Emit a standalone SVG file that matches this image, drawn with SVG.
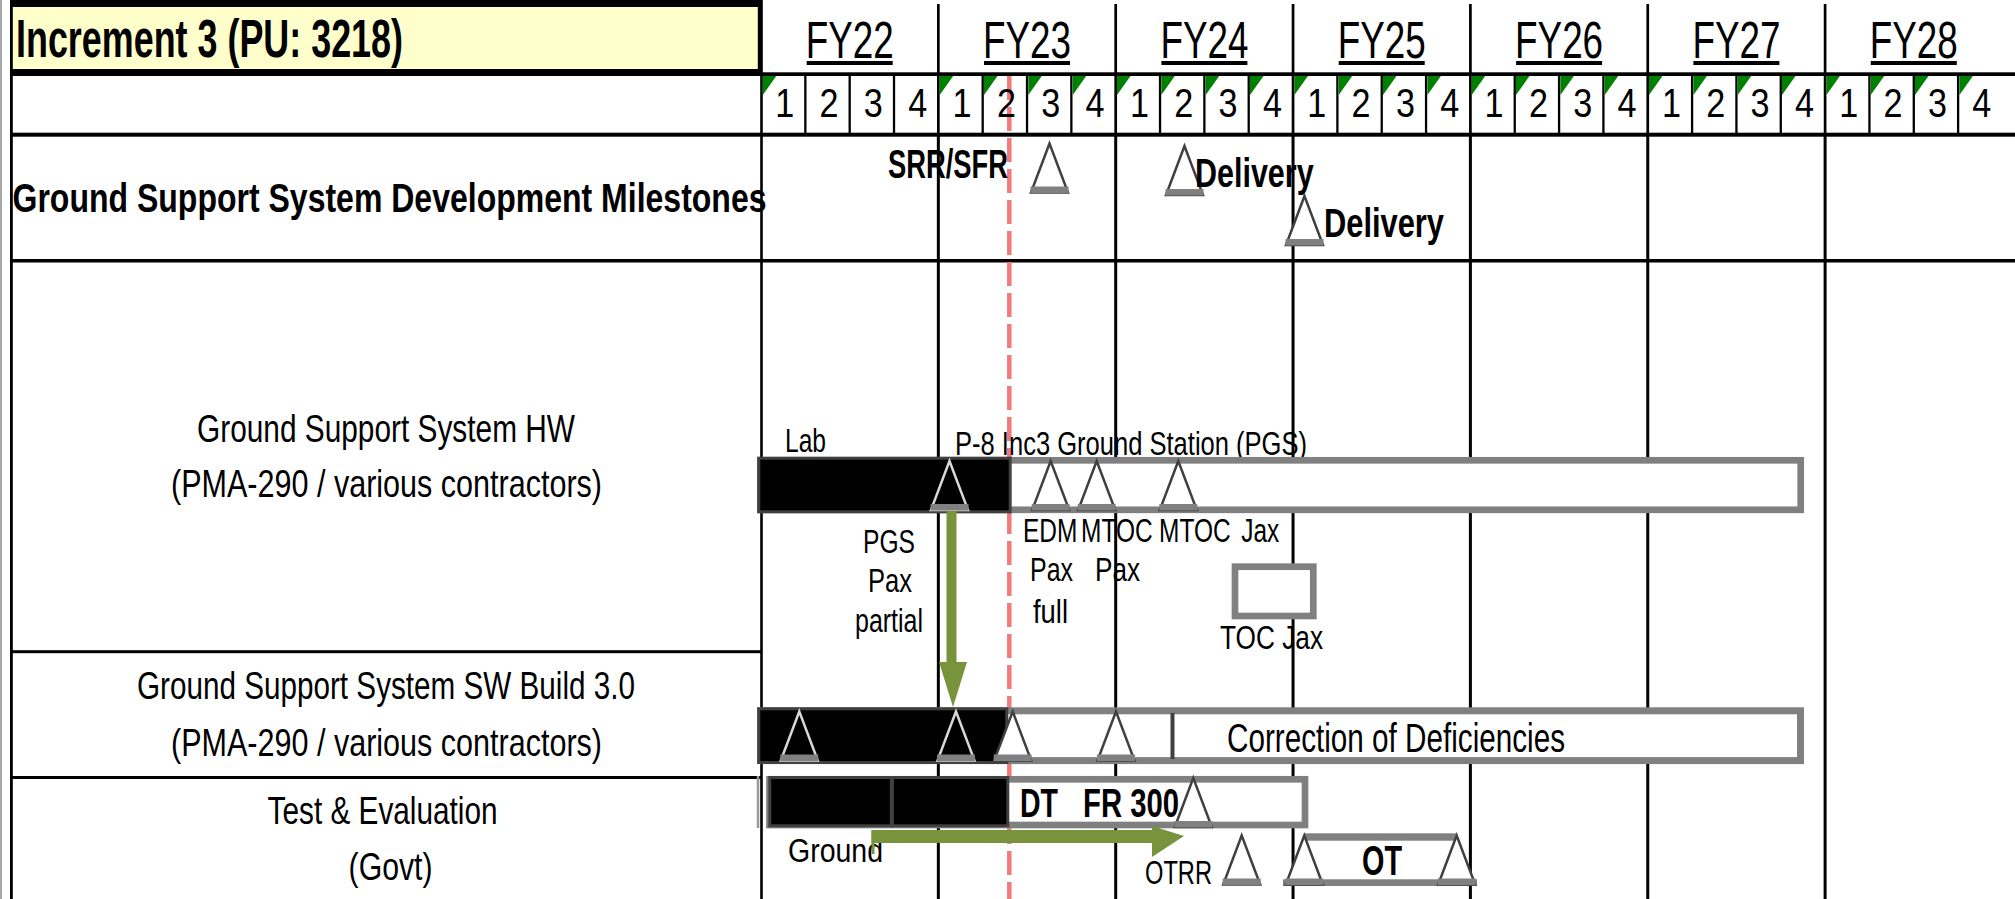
<svg xmlns="http://www.w3.org/2000/svg" xmlns:xlink="http://www.w3.org/1999/xlink" width="2015" height="899" viewBox="0 0 2015 899">
<defs>
<style>
text{font-family:"Liberation Sans",Arial,sans-serif;fill:#000}
.b{font-weight:bold}
.fy{font-size:52px;text-anchor:middle}
.q{font-size:41px;text-anchor:middle}
.lab{font-size:39px;text-anchor:middle}
.sm{font-size:34px}
.md{font-size:40px}
.yl{stroke:#000;stroke-width:3}
.yh{stroke:#000;stroke-width:2.7}
.ql{stroke:#000;stroke-width:2.3}
.gbar{fill:#fff;stroke:#808080}
.kbar{fill:#000;stroke:#404040;stroke-width:3}
.arrow{fill:#77933C}
</style>
<polygon id="gt" points="0,0 13.5,0 0,19" fill="#008000"/>
<g id="triW"><polygon points="0,0 -18.5,49 18.5,49" fill="#fff" stroke="#404040" stroke-width="2.5"/><rect x="-19" y="43" width="38" height="6.5" fill="#808080"/></g>
<g id="triK"><polygon points="0,0 -18.5,49 18.5,49" fill="none" stroke="#d8d8d8" stroke-width="2.5"/><rect x="-19" y="43" width="38" height="6.5" fill="#808080"/></g>
</defs>
<rect width="2015" height="899" fill="#fff"/>

<g id="grid">
<line x1="1" y1="0" x2="1" y2="899" stroke="#8a8a8a" stroke-width="1.5"/>
<rect x="10" y="0" width="2.8" height="899" fill="#000"/>
<rect x="760.2" y="0" width="2.6" height="899" fill="#000"/>
<rect x="10" y="72.3" width="2005" height="3.7" fill="#000"/>
<rect x="10" y="132.7" width="2005" height="4" fill="#000"/>
<rect x="10" y="259" width="2005" height="3.5" fill="#000"/>
<rect x="10" y="650.2" width="751" height="3" fill="#000"/>
<rect x="10" y="776" width="751" height="3" fill="#000"/>
<g class="yh">
<line x1="938.35" y1="4" x2="938.35" y2="136"/><line x1="1115.7" y1="4" x2="1115.7" y2="136"/><line x1="1293.05" y1="4" x2="1293.05" y2="136"/><line x1="1470.4" y1="4" x2="1470.4" y2="136"/><line x1="1647.75" y1="4" x2="1647.75" y2="136"/><line x1="1825.1" y1="4" x2="1825.1" y2="136"/>
</g>
<g class="ql">
<line x1="805.34" y1="76" x2="805.34" y2="133"/><line x1="849.68" y1="76" x2="849.68" y2="133"/><line x1="894.01" y1="76" x2="894.01" y2="133"/>
<line x1="982.69" y1="76" x2="982.69" y2="133"/><line x1="1027.03" y1="76" x2="1027.03" y2="133"/><line x1="1071.36" y1="76" x2="1071.36" y2="133"/>
<line x1="1160.04" y1="76" x2="1160.04" y2="133"/><line x1="1204.38" y1="76" x2="1204.38" y2="133"/><line x1="1248.71" y1="76" x2="1248.71" y2="133"/>
<line x1="1337.39" y1="76" x2="1337.39" y2="133"/><line x1="1381.73" y1="76" x2="1381.73" y2="133"/><line x1="1426.06" y1="76" x2="1426.06" y2="133"/>
<line x1="1514.74" y1="76" x2="1514.74" y2="133"/><line x1="1559.08" y1="76" x2="1559.08" y2="133"/><line x1="1603.41" y1="76" x2="1603.41" y2="133"/>
<line x1="1692.09" y1="76" x2="1692.09" y2="133"/><line x1="1736.43" y1="76" x2="1736.43" y2="133"/><line x1="1780.76" y1="76" x2="1780.76" y2="133"/>
<line x1="1869.44" y1="76" x2="1869.44" y2="133"/><line x1="1913.78" y1="76" x2="1913.78" y2="133"/><line x1="1958.11" y1="76" x2="1958.11" y2="133"/>
</g>
<g class="yl">
<line x1="938.35" y1="136" x2="938.35" y2="899"/><line x1="1115.7" y1="136" x2="1115.7" y2="899"/><line x1="1293.05" y1="136" x2="1293.05" y2="899"/><line x1="1470.4" y1="136" x2="1470.4" y2="899"/><line x1="1647.75" y1="136" x2="1647.75" y2="899"/><line x1="1825.1" y1="136" x2="1825.1" y2="899"/>
</g>
<g>
<use xlink:href="#gt" x="762.8" y="76"/>
<use xlink:href="#gt" x="939.7" y="76"/><use xlink:href="#gt" x="984" y="76"/><use xlink:href="#gt" x="1028.3" y="76"/><use xlink:href="#gt" x="1072.7" y="76"/>
<use xlink:href="#gt" x="1117" y="76"/><use xlink:href="#gt" x="1161.3" y="76"/><use xlink:href="#gt" x="1205.7" y="76"/><use xlink:href="#gt" x="1250" y="76"/>
<use xlink:href="#gt" x="1294.4" y="76"/><use xlink:href="#gt" x="1338.7" y="76"/><use xlink:href="#gt" x="1383" y="76"/><use xlink:href="#gt" x="1427.4" y="76"/>
<use xlink:href="#gt" x="1471.7" y="76"/><use xlink:href="#gt" x="1516" y="76"/><use xlink:href="#gt" x="1560.4" y="76"/><use xlink:href="#gt" x="1604.7" y="76"/>
<use xlink:href="#gt" x="1649" y="76"/><use xlink:href="#gt" x="1693.4" y="76"/><use xlink:href="#gt" x="1737.7" y="76"/><use xlink:href="#gt" x="1782" y="76"/>
<use xlink:href="#gt" x="1826.4" y="76"/><use xlink:href="#gt" x="1870.7" y="76"/><use xlink:href="#gt" x="1915" y="76"/><use xlink:href="#gt" x="1959.4" y="76"/>
</g>
<line id="today" x1="1009.3" y1="76" x2="1009.3" y2="899" stroke="#F37A7A" stroke-width="4.5" stroke-dasharray="24 7"/>
</g>

<g id="title">
<rect x="10" y="0" width="752" height="76" fill="#000"/>
<rect x="12.8" y="7" width="745" height="62" fill="#FFFFCC"/>
<text class="b" x="16" y="57" font-size="53" textLength="387" lengthAdjust="spacingAndGlyphs">Increment 3 (PU: 3218)</text>
</g>

<g id="years">
<text class="fy" x="849.7" y="58" textLength="88" lengthAdjust="spacingAndGlyphs">FY22</text>
<text class="fy" x="1027" y="58" textLength="88" lengthAdjust="spacingAndGlyphs">FY23</text>
<text class="fy" x="1204.4" y="58" textLength="88" lengthAdjust="spacingAndGlyphs">FY24</text>
<text class="fy" x="1381.7" y="58" textLength="88" lengthAdjust="spacingAndGlyphs">FY25</text>
<text class="fy" x="1559.1" y="58" textLength="88" lengthAdjust="spacingAndGlyphs">FY26</text>
<text class="fy" x="1736.4" y="58" textLength="88" lengthAdjust="spacingAndGlyphs">FY27</text>
<text class="fy" x="1913.8" y="58" textLength="88" lengthAdjust="spacingAndGlyphs">FY28</text>
<g fill="#000">
<rect x="806.7" y="61" width="86" height="4"/><rect x="984" y="61" width="86" height="4"/><rect x="1161.4" y="61" width="86" height="4"/><rect x="1338.7" y="61" width="86" height="4"/><rect x="1516.1" y="61" width="86" height="4"/><rect x="1693.4" y="61" width="86" height="4"/><rect x="1870.8" y="61" width="86" height="4"/>
</g>
</g>

<g id="quarters">
<text class="q" x="784.7" y="117" textLength="19" lengthAdjust="spacingAndGlyphs">1</text><text class="q" x="829" y="117" textLength="19" lengthAdjust="spacingAndGlyphs">2</text><text class="q" x="873.3" y="117" textLength="19" lengthAdjust="spacingAndGlyphs">3</text><text class="q" x="917.7" y="117" textLength="19" lengthAdjust="spacingAndGlyphs">4</text>
<text class="q" x="962" y="117" textLength="19" lengthAdjust="spacingAndGlyphs">1</text><text class="q" x="1006.4" y="117" textLength="19" lengthAdjust="spacingAndGlyphs">2</text><text class="q" x="1050.7" y="117" textLength="19" lengthAdjust="spacingAndGlyphs">3</text><text class="q" x="1095" y="117" textLength="19" lengthAdjust="spacingAndGlyphs">4</text>
<text class="q" x="1139.4" y="117" textLength="19" lengthAdjust="spacingAndGlyphs">1</text><text class="q" x="1183.7" y="117" textLength="19" lengthAdjust="spacingAndGlyphs">2</text><text class="q" x="1228" y="117" textLength="19" lengthAdjust="spacingAndGlyphs">3</text><text class="q" x="1272.4" y="117" textLength="19" lengthAdjust="spacingAndGlyphs">4</text>
<text class="q" x="1316.7" y="117" textLength="19" lengthAdjust="spacingAndGlyphs">1</text><text class="q" x="1361.1" y="117" textLength="19" lengthAdjust="spacingAndGlyphs">2</text><text class="q" x="1405.4" y="117" textLength="19" lengthAdjust="spacingAndGlyphs">3</text><text class="q" x="1449.7" y="117" textLength="19" lengthAdjust="spacingAndGlyphs">4</text>
<text class="q" x="1494.1" y="117" textLength="19" lengthAdjust="spacingAndGlyphs">1</text><text class="q" x="1538.4" y="117" textLength="19" lengthAdjust="spacingAndGlyphs">2</text><text class="q" x="1582.8" y="117" textLength="19" lengthAdjust="spacingAndGlyphs">3</text><text class="q" x="1627.1" y="117" textLength="19" lengthAdjust="spacingAndGlyphs">4</text>
<text class="q" x="1671.4" y="117" textLength="19" lengthAdjust="spacingAndGlyphs">1</text><text class="q" x="1715.8" y="117" textLength="19" lengthAdjust="spacingAndGlyphs">2</text><text class="q" x="1760.1" y="117" textLength="19" lengthAdjust="spacingAndGlyphs">3</text><text class="q" x="1804.5" y="117" textLength="19" lengthAdjust="spacingAndGlyphs">4</text>
<text class="q" x="1848.8" y="117" textLength="19" lengthAdjust="spacingAndGlyphs">1</text><text class="q" x="1893.1" y="117" textLength="19" lengthAdjust="spacingAndGlyphs">2</text><text class="q" x="1937.5" y="117" textLength="19" lengthAdjust="spacingAndGlyphs">3</text><text class="q" x="1981.8" y="117" textLength="19" lengthAdjust="spacingAndGlyphs">4</text>
</g>

<g id="row-milestones">
<text class="b md" x="12.5" y="211.7" textLength="754" lengthAdjust="spacingAndGlyphs">Ground Support System Development Milestones</text>
<text class="b md" x="888" y="178" textLength="120" lengthAdjust="spacingAndGlyphs">SRR/SFR</text>
<use xlink:href="#triW" x="1049.5" y="143.5"/>
<use xlink:href="#triW" x="1184.5" y="146"/>
<text class="b md" x="1195" y="186.5" textLength="118.6" lengthAdjust="spacingAndGlyphs">Delivery</text>
<use xlink:href="#triW" x="1304.5" y="196"/>
<text class="b md" x="1324" y="236.7" textLength="120" lengthAdjust="spacingAndGlyphs">Delivery</text>
</g>

<g id="row-hw">
<text class="lab" x="386" y="441.7" textLength="378" lengthAdjust="spacingAndGlyphs">Ground Support System HW</text>
<text class="lab" x="386.5" y="497.3" textLength="431" lengthAdjust="spacingAndGlyphs">(PMA-290 / various contractors)</text>
<text class="sm" x="785" y="452.3" textLength="41" lengthAdjust="spacingAndGlyphs">Lab</text>
<text class="sm" x="955" y="455" textLength="352" lengthAdjust="spacingAndGlyphs">P-8 Inc3 Ground Station (PGS)</text>
<rect class="gbar" x="760.3" y="460.3" width="1040.4" height="49.5" stroke-width="6.7"/>
<rect class="kbar" x="758.8" y="458.2" width="251.4" height="53.6"/>
<use xlink:href="#triK" x="949.5" y="461"/>
<use xlink:href="#triW" x="1050.7" y="461"/>
<use xlink:href="#triW" x="1096.7" y="461"/>
<use xlink:href="#triW" x="1178.3" y="461"/>
<g class="sm" text-anchor="middle">
<text x="889" y="553" textLength="52" lengthAdjust="spacingAndGlyphs">PGS</text>
<text x="890" y="591.7" textLength="44" lengthAdjust="spacingAndGlyphs">Pax</text>
<text x="889" y="631.7" textLength="68" lengthAdjust="spacingAndGlyphs">partial</text>
</g>
<text class="sm" transform="translate(1023,541.7) scale(0.72,1)"><tspan x="0">EDM</tspan><tspan x="80.6">MTOC</tspan><tspan x="189">MTOC</tspan><tspan x="303">Jax</tspan></text>
<text class="sm" x="1030" y="580.7" textLength="43" lengthAdjust="spacingAndGlyphs">Pax</text>
<text class="sm" x="1095" y="580.7" textLength="45" lengthAdjust="spacingAndGlyphs">Pax</text>
<text class="sm" x="1033" y="623.3" textLength="35" lengthAdjust="spacingAndGlyphs">full</text>
<rect class="gbar" x="1235" y="566.7" width="78.3" height="49.3" stroke-width="6.7"/>
<text class="sm" x="1220" y="649.3" textLength="103" lengthAdjust="spacingAndGlyphs">TOC Jax</text>
</g>

<g id="row-sw">
<text class="lab" x="386" y="699.3" textLength="498" lengthAdjust="spacingAndGlyphs">Ground Support System SW Build 3.0</text>
<text class="lab" x="386.5" y="756" textLength="431" lengthAdjust="spacingAndGlyphs">(PMA-290 / various contractors)</text>
<rect class="gbar" x="760.5" y="710.8" width="1040" height="49.8" stroke-width="7"/>
<rect class="kbar" x="758.8" y="708.8" width="248" height="53.7"/>
<rect x="1170.5" y="713" width="4" height="46" fill="#404040"/>
<use xlink:href="#triK" x="799.3" y="711.5"/>
<use xlink:href="#triK" x="956" y="711.5"/>
<use xlink:href="#triW" x="1012.7" y="711.5"/>
<use xlink:href="#triW" x="1116" y="711.5"/>
<text class="md" x="1227" y="751.7" textLength="338" lengthAdjust="spacingAndGlyphs">Correction of Deficiencies</text>
</g>

<g id="row-te">
<text class="lab" x="382.6" y="824.3" textLength="230" lengthAdjust="spacingAndGlyphs">Test &amp; Evaluation</text>
<text class="lab" x="390.6" y="880" textLength="84" lengthAdjust="spacingAndGlyphs">(Govt)</text>
<line x1="758" y1="776" x2="758" y2="828" stroke="#999" stroke-width="2.5"/>
<rect class="gbar" x="769.5" y="779.3" width="535.5" height="45.7" stroke-width="6.7"/>
<rect class="kbar" x="769.8" y="777.5" width="121.5" height="48.3"/>
<rect class="kbar" x="892.5" y="777.5" width="115.3" height="48.3"/>
<text class="b md" x="1020" y="816.7" textLength="38" lengthAdjust="spacingAndGlyphs">DT</text>
<text class="b md" x="1083" y="816.7" textLength="96" lengthAdjust="spacingAndGlyphs">FR 300</text>
<use xlink:href="#triW" x="1193.3" y="778"/>
<text class="sm" x="788" y="861.7" textLength="95" lengthAdjust="spacingAndGlyphs">Ground</text>
<text class="sm" x="1145" y="884" textLength="67" lengthAdjust="spacingAndGlyphs">OTRR</text>
<use xlink:href="#triW" x="1241.7" y="835.5"/>
<rect x="1304" y="833.3" width="153" height="7.4" fill="#808080"/>
<rect x="1283" y="879.3" width="194" height="6.7" fill="#808080"/>
<use xlink:href="#triW" x="1304.3" y="835.5"/>
<use xlink:href="#triW" x="1456.7" y="835.5"/>
<text class="b" x="1362" y="875" font-size="42" textLength="40" lengthAdjust="spacingAndGlyphs">OT</text>
</g>

<g id="connectors">
<rect class="arrow" x="946.5" y="511" width="10" height="152"/>
<polygon class="arrow" points="939,662 967,662 953,707"/>
<rect class="arrow" x="871.5" y="830" width="281" height="13"/>
<rect class="arrow" x="871.5" y="830" width="3" height="24"/>
<polygon class="arrow" points="1152,826 1184,836 1152,857"/>
</g>
</svg>
